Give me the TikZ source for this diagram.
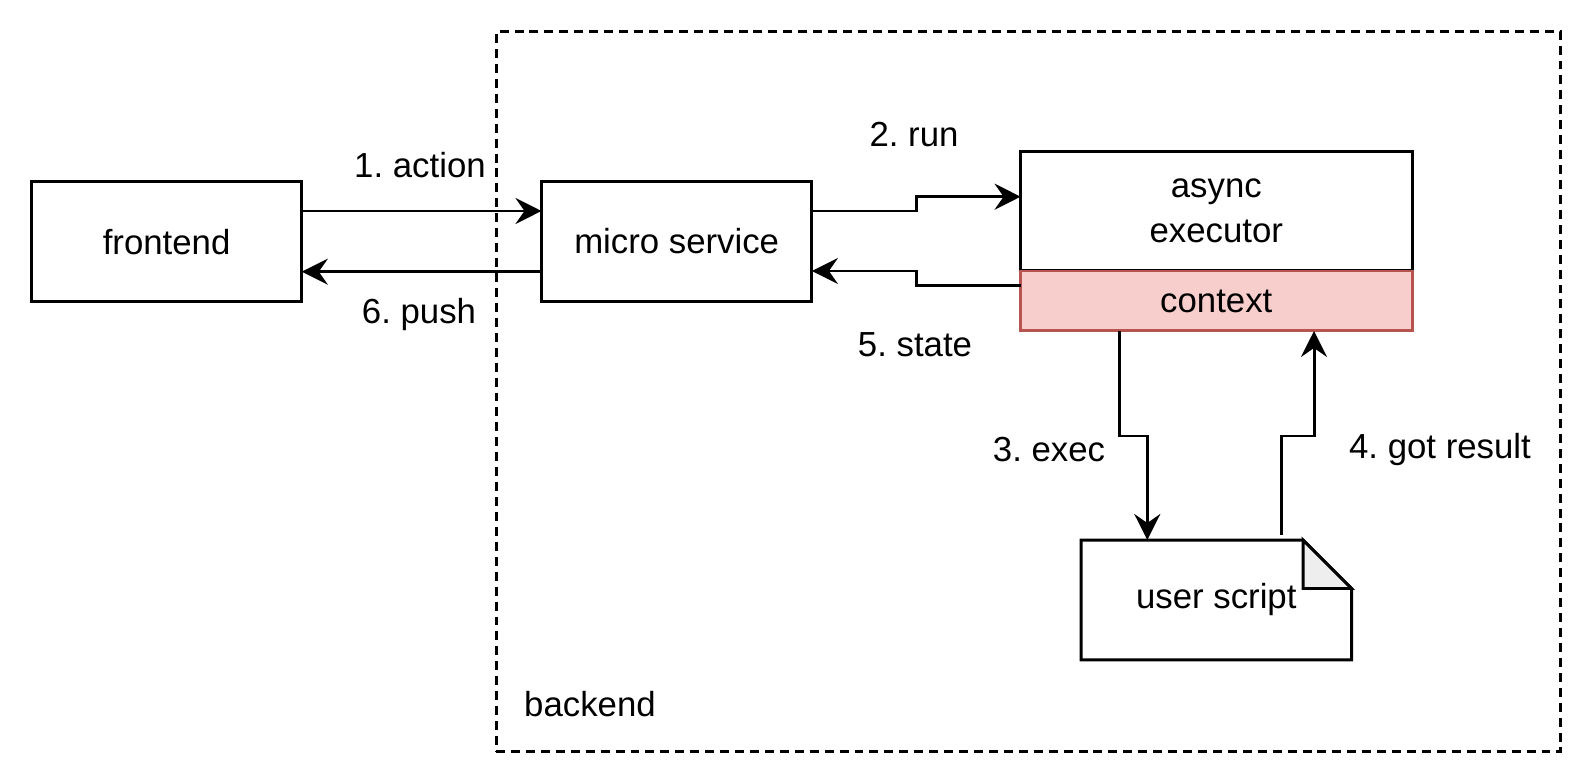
\documentclass[tikz,border=0pt]{standalone}
\usepackage{fontspec}
\setmainfont{Liberation Sans}
\usepackage{xcolor}
\usetikzlibrary{arrows.meta}
\definecolor{ctxfill}{HTML}{F8CECC}
\definecolor{ctxline}{HTML}{B85450}
\definecolor{foldfill}{HTML}{EEEEEE}
\frenchspacing

\begin{document}
\begin{tikzpicture}[x=0.02cm,y=-0.02cm,
	font=\fontsize{19.8}{25.6}\selectfont,
	box/.style={draw,line width=1.7pt,inner sep=0pt,outer sep=0pt,minimum width=5.41cm,minimum height=2.4cm,align=center},
	arr/.style={line width=1.7pt,-{Stealth[length=0.52cm,width=0.52cm,inset=0.18cm]}}]
	\useasboundingbox (0,0) rectangle (1593,783);

	\node[draw,line width=1.7pt,dash pattern=on 5.1pt off 3.4pt,inner sep=0pt,outer sep=0pt,minimum width=21.3cm,minimum height=14.41cm] (backend) at (1028.5,391.8) {};
	\node[anchor=west] (backlbl) at (518,704) {backend};

	\node[box] (front) at (166.6,241.7) {frontend};
	\node[box] (micro) at (676.7,241.5) {micro service};
	\node[box,minimum width=7.83cm,minimum height=2.386cm] (exec) at (1216.3,211.3) {async\\executor};
	\node[box,minimum width=7.83cm,minimum height=1.2cm,fill=ctxfill,draw=ctxline] (ctx) at (1216.3,301) {context};

	\node[inner sep=0pt,outer sep=0pt,minimum width=5.41cm,minimum height=2.4cm] (script) at (1216.3,600) {user script};
	\draw[line width=1.7pt] (script.north west) -- ([xshift=-0.97cm]script.north east) -- ([yshift=-0.97cm]script.north east) -- (script.south east) -- (script.south west) -- cycle;
	\draw[line width=1.7pt,fill=foldfill] ([xshift=-0.97cm]script.north east) -- ([xshift=-0.97cm,yshift=-0.97cm]script.north east) -- ([yshift=-0.97cm]script.north east) -- cycle;

	\draw[arr] (front.east |- 0,211) -- (micro.west |- 0,211);
	\draw[arr] (micro.west |- 0,271.7) -- (front.east |- 0,271.7);
	\draw[arr] (micro.east |- 0,211) -| (916,196.7) -- (exec.west |- 0,196.7);
	\draw[arr] (ctx.west |- 0,285.7) -| (916,271) -- (micro.east |- 0,271);
	\draw[arr] (ctx.south -| 1119,0) |- (1147.3,436) -- (script.north -| 1147.3,0);
	\coordinate (res) at (1281.7,535);
	\draw[arr] (res) |- (1314,436) -- (ctx.south -| 1314,0);

	\node (act) at (420,165) {1. action};
	\node (push) at (419,315) {6. push};
	\node (run) at (914,135) {2. run};
	\node (state) at (915,345) {5. state};
	\node (exlbl) at (1049,450) {3. exec};
	\node (reslbl) at (1440,450) {4. got result};
\end{tikzpicture}
\end{document}
